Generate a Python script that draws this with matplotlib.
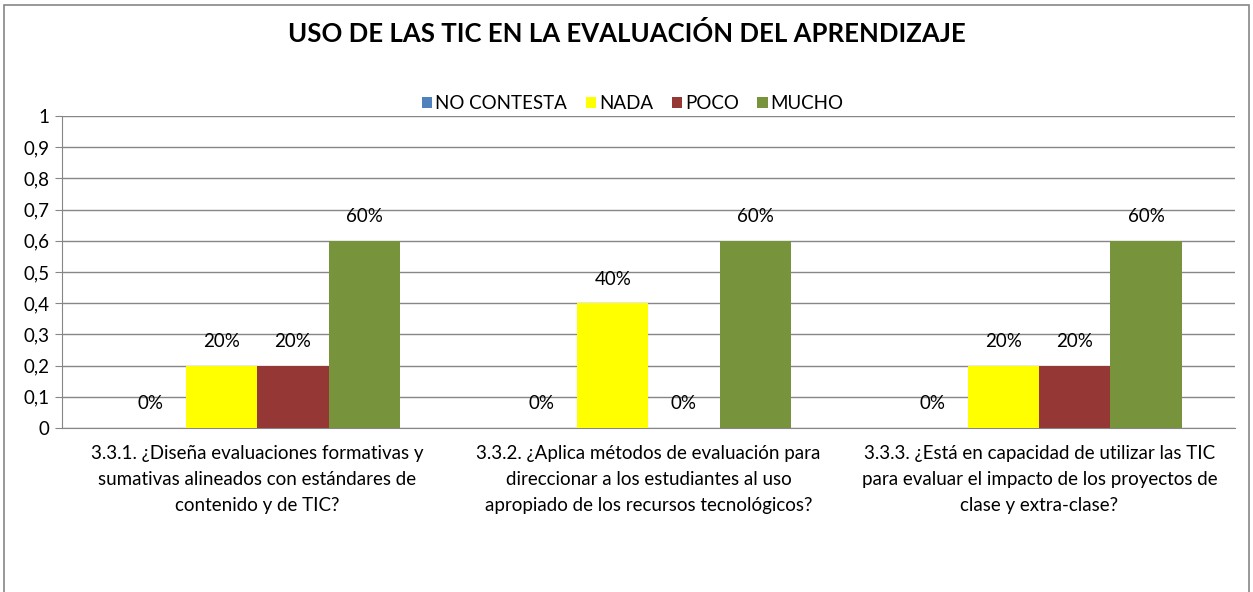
import matplotlib.pyplot as plt
import numpy as np
from matplotlib.patches import Rectangle

plt.rcParams['font.family'] = ['Lato', 'DejaVu Sans']

categories = [
    "3.3.1. ¿Diseña evaluaciones formativas y\nsumativas alineados con estándares de\ncontenido y de TIC?",
    "3.3.2. ¿Aplica métodos de evaluación para\ndireccionar a los estudiantes al uso\napropiado de los recursos tecnológicos?",
    "3.3.3. ¿Está en capacidad de utilizar las TIC\npara evaluar el impacto de los proyectos de\nclase y extra-clase?",
]
series_names = ["NO CONTESTA", "NADA", "POCO", "MUCHO"]
no_contesta = [0.0, 0.0, 0.0]
nada = [0.2, 0.4, 0.2]
poco = [0.2, 0.0, 0.2]
mucho = [0.6, 0.6, 0.6]
colors = ["#4F81BD", "#FFFF00", "#953735", "#77933C"]
yticks = [0, 0.1, 0.2, 0.3, 0.4, 0.5, 0.6, 0.7, 0.8, 0.9, 1]

fs = 13.5

fig = plt.figure(figsize=(12.53, 5.92), dpi=100)
ax = fig.add_axes([0.0495, 0.277, 0.936, 0.527])

# outer chart border
fig.patches.append(Rectangle((0.003, -0.01), 0.994, 1.002, transform=fig.transFigure,
                             fill=False, edgecolor="#868686", linewidth=1.2))

x = np.arange(len(categories))
w = 1 / 5.5
data = [no_contesta, nada, poco, mucho]
for i, (vals, name, c) in enumerate(zip(data, series_names, colors)):
    pos = x + (i - 1.5) * w
    ax.bar(pos, vals, width=w, color=c, label=name, zorder=3)
    for px, v in zip(pos, vals):
        if i == 0 or v > 0 or i == 2:
            ax.text(px, v + 0.077, f"{v * 100:.0f}%", ha="center", va="center",
                    fontsize=fs, zorder=4)

ax.set_xlim(-0.5, 2.5)
ax.set_ylim(0, 1)
ax.set_yticks(yticks)
ax.set_yticklabels([f"{t:g}".replace(".", ",") for t in yticks], fontsize=fs)
ax.set_xticks(x)
ax.set_xticklabels(categories, fontsize=fs, linespacing=1.65)
ax.tick_params(axis="x", length=0, pad=12)
ax.tick_params(axis="y", length=5, color="#868686", pad=4)
ax.yaxis.grid(True, color="#868686", linewidth=1, zorder=0)
for s in ["top", "right"]:
    ax.spines[s].set_visible(False)
ax.spines["left"].set_color("#868686")
ax.spines["bottom"].set_color("#868686")

fig.text(0.5, 0.943, "USO DE LAS TIC EN LA EVALUACIÓN DEL APRENDIZAJE",
         ha="center", va="center", fontsize=18.5, fontweight="bold")
fig.legend(loc="center", bbox_to_anchor=(0.505, 0.825), ncol=4, frameon=False,
           fontsize=fs, handlelength=0.55, handleheight=0.55, handletextpad=0.15,
           columnspacing=1.0)

fig.savefig("out.png", dpi=100)
